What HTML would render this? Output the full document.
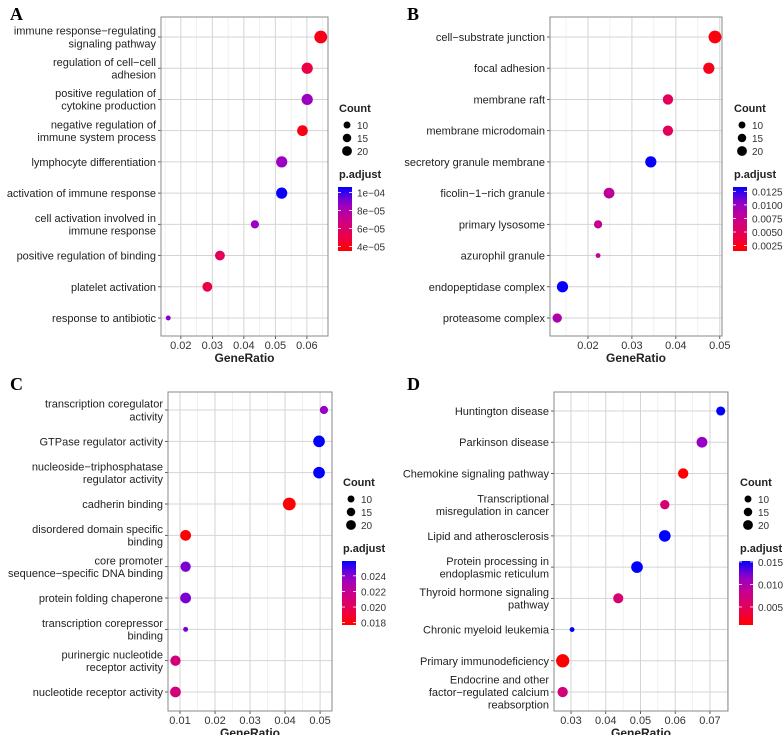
<!DOCTYPE html>
<html><head><meta charset="utf-8">
<style>
html,body{margin:0;padding:0;background:#fff;}
svg{display:block;font-family:"Liberation Sans",Arial,sans-serif;}
</style></head>
<body>
<svg id="fig" width="783" height="735" viewBox="0 0 783 735" xmlns="http://www.w3.org/2000/svg"></svg>
<script>
// ---------- Panel A ----------
const catsA = [["immune response\u2212regulating","signaling pathway"],["regulation of cell\u2212cell","adhesion"],["positive regulation of","cytokine production"],["negative regulation of","immune system process"],["lymphocyte differentiation"],["activation of immune response"],["cell activation involved in","immune response"],["positive regulation of binding"],["platelet activation"],["response to antibiotic"]];
const ratioA = [0.0644,0.0601,0.0601,0.0586,0.0520,0.0520,0.0435,0.0324,0.0284,0.0160];
const countA = [34,26,26,24,26,26,14,20,20,5];
const padjA = [4.0e-5,5.0e-5,8.6e-5,4.0e-5,8.6e-5,1.05e-4,8.6e-5,5.5e-5,5.0e-5,9.0e-5];
const xticksA = [0.02,0.03,0.04,0.05,0.06];
const xlabA = ["0.02","0.03","0.04","0.05","0.06"];
const cticksA = [4e-5,6e-5,8e-5,1e-4];
const clabA = ["4e\u221205","6e\u221205","8e\u221205","1e\u221204"];
// ---------- Panel B ----------
const catsB = [["cell\u2212substrate junction"],["focal adhesion"],["membrane raft"],["membrane microdomain"],["secretory granule membrane"],["ficolin\u22121\u2212rich granule"],["primary lysosome"],["azurophil granule"],["endopeptidase complex"],["proteasome complex"]];
const ratioB = [0.0489,0.0475,0.0382,0.0382,0.0343,0.0248,0.0223,0.0223,0.0142,0.0130];
const countB = [34,26,22,22,26,24,14,5,26,18];
const padjB = [0.0020,0.0025,0.0050,0.0050,0.0132,0.0080,0.0075,0.0075,0.0132,0.0090];
const xticksB = [0.02,0.03,0.04,0.05];
const xlabB = ["0.02","0.03","0.04","0.05"];
const cticksB = [0.0025,0.005,0.0075,0.01,0.0125];
const clabB = ["0.0025","0.0050","0.0075","0.0100","0.0125"];
// ---------- Panel C ----------
const catsC = [["transcription coregulator","activity"],["GTPase regulator activity"],["nucleoside\u2212triphosphatase","regulator activity"],["cadherin binding"],["disordered domain specific","binding"],["core promoter","sequence\u2212specific DNA binding"],["protein folding chaperone"],["transcription corepressor","binding"],["purinergic nucleotide","receptor activity"],["nucleotide receptor activity"]];
const ratioC = [0.0511,0.0497,0.0497,0.0412,0.0116,0.0116,0.0116,0.0116,0.0087,0.0087];
const countC = [14,28,28,34,24,22,24,5,22,24];
const padjC = [0.0237,0.0259,0.0259,0.0177,0.0177,0.0242,0.0242,0.0242,0.0212,0.0212];
const xticksC = [0.01,0.02,0.03,0.04,0.05];
const xlabC = ["0.01","0.02","0.03","0.04","0.05"];
const cticksC = [0.018,0.020,0.022,0.024];
const clabC = ["0.018","0.020","0.022","0.024"];
// ---------- Panel D ----------
const catsD = [["Huntington disease"],["Parkinson disease"],["Chemokine signaling pathway"],["Transcriptional","misregulation in cancer"],["Lipid and atherosclerosis"],["Protein processing in","endoplasmic reticulum"],["Thyroid hormone signaling","pathway"],["Chronic myeloid leukemia"],["Primary immunodeficiency"],["Endocrine and other","factor\u2212regulated calcium","reabsorption"]];
const ratioD = [0.0731,0.0677,0.0623,0.0570,0.0570,0.0490,0.0436,0.0303,0.0276,0.0276];
const countD = [17,24,22,18,28,28,21,5,36,22];
const padjD = [0.0152,0.0115,0.0010,0.0065,0.0152,0.0152,0.0065,0.0152,0.0010,0.0070];
const xticksD = [0.03,0.04,0.05,0.06,0.07];
const xlabD = ["0.03","0.04","0.05","0.06","0.07"];
const cticksD = [0.005,0.010,0.015];
const clabD = ["0.005","0.010","0.015"];
const legendCounts = [10,15,20];

const NS="http://www.w3.org/2000/svg";
const svg=document.getElementById('fig');
function mk(tag,attrs,parent){const e=document.createElementNS(NS,tag);for(const k in attrs)e.setAttribute(k,attrs[k]);(parent||svg).appendChild(e);return e;}
function rad(c){return 1.1*Math.sqrt(c);}
const stops=[[255,0,0],[232,0,80],[200,0,140],[150,0,200],[0,0,255]];
function col(t){t=Math.max(0,Math.min(1,t));const p=t*(stops.length-1);const i=Math.min(stops.length-2,Math.floor(p));const f=p-i;const a=stops[i],b=stops[i+1];return `rgb(${Math.round(a[0]+(b[0]-a[0])*f)},${Math.round(a[1]+(b[1]-a[1])*f)},${Math.round(a[2]+(b[2]-a[2])*f)})`;}

function panel(P){
  const g=mk('g',{});
  
  
  const t=mk('text',{x:P.lx,y:P.ly,'font-family':'"Liberation Serif",serif','font-weight':'bold','font-size':18,fill:'#000'},g);
  t.textContent=P.id;
  
  
  const xs=v=>P.x0+(v-P.dmin)/(P.dmax-P.dmin)*(P.x1-P.x0);
  const n=P.cats.length;
  const ys=i=>P.r0+i*(P.rN-P.r0)/(n-1);
  mk('rect',{x:P.x0,y:P.y0,width:P.x1-P.x0,height:P.y1-P.y0,fill:'#fff'},g);
  // minor grid
  for(let k=0;k<P.xt.length+1;k++){
    const step=P.xt[1]-P.xt[0];const v=P.xt[0]-step/2+k*step;
    if(v>P.dmin&&v<P.dmax){mk('line',{x1:xs(v),x2:xs(v),y1:P.y0,y2:P.y1,stroke:'#e6e6e6','stroke-width':0.6},g);}
  }
  P.xt.forEach((v,k)=>{
    const l=mk('line',{x1:xs(v),x2:xs(v),y1:P.y0,y2:P.y1,stroke:'#d4d4d4','stroke-width':1},g);
    
    
    mk('line',{x1:xs(v),x2:xs(v),y1:P.y1,y2:P.y1+3,stroke:'#333','stroke-width':0.8},g);
    const tx=mk('text',{x:xs(v),y:P.y1+13,'text-anchor':'middle','font-size':11,fill:'#333'},g);
    tx.textContent=P.xl[k];
    
    
  });
  P.cats.forEach((c,i)=>{
    const y=ys(i);
    const l=mk('line',{x1:P.x0,x2:P.x1,y1:y,y2:y,stroke:'#d4d4d4','stroke-width':1},g);
    
    
    mk('line',{x1:P.x0-3,x2:P.x0,y1:y,y2:y,stroke:'#333','stroke-width':0.8},g);
    const lh=12.6;const top=y-(c.length-1)*lh/2+4;
    const tx=mk('text',{'text-anchor':'end','font-size':11,fill:'#222'},g);
    
    
    c.forEach((s,j)=>{const ts=mk('tspan',{x:P.x0-5,y:top+j*lh},tx);ts.textContent=s;});
  });
  mk('rect',{x:P.x0,y:P.y0,width:P.x1-P.x0,height:P.y1-P.y0,fill:'none',stroke:'#8a8a8a','stroke-width':1},g);
  P.cats.forEach((c,i)=>{
    const tt=(P.padj[i]-P.cmin)/(P.cmax-P.cmin);
    const d=mk('circle',{cx:xs(P.ratio[i]),cy:ys(i),r:rad(P.count[i]),fill:col(tt)},g);
    
    
  });
  const at=mk('text',{x:(P.x0+P.x1)/2,y:P.y1+26,'text-anchor':'middle','font-size':12,'font-weight':'bold',fill:'#222'},g);
  at.textContent='GeneRatio';
  
  
  // legend: count
  const lg=P.leg;
  const ct=mk('text',{x:lg,y:P.cy,'font-size':11,'font-weight':'bold',fill:'#222'},g);
  ct.textContent='Count';
  
  
  legendCounts.forEach((c,k)=>{
    const yy=P.cy+13+k*13;
    const d=mk('circle',{cx:lg+8,cy:yy,r:rad(c),fill:'#000'},g);
    
    
    const tx=mk('text',{x:lg+18,y:yy+4,'font-size':10,fill:'#333'},g);
    tx.textContent=String(c);
    
    
  });
  const pt=mk('text',{x:lg,y:P.cy+66,'font-size':11,'font-weight':'bold',fill:'#222'},g);
  pt.textContent='p.adjust';
  
  
  const by0=P.cy+75,by1=P.cy+139,bx=lg-1,bw=14;
  const gid='grad'+P.id;
  const defs=mk('defs',{},g);
  const lgd=mk('linearGradient',{id:gid,x1:0,y1:1,x2:0,y2:0},defs);
  for(let k=0;k<=10;k++){mk('stop',{offset:k/10,'stop-color':col(k/10)},lgd);}
  const bar=mk('rect',{x:bx,y:by0,width:bw,height:by1-by0,fill:`url(#${gid})`},g);
  
  
  P.ct.forEach((v,k)=>{
    const yy=by1-(v-P.cmin)/(P.cmax-P.cmin)*(by1-by0);
    mk('line',{x1:bx,x2:bx+3,y1:yy,y2:yy,stroke:'#fff','stroke-width':0.8},g);
    mk('line',{x1:bx+bw-3,x2:bx+bw,y1:yy,y2:yy,stroke:'#fff','stroke-width':0.8},g);
    const tx=mk('text',{x:bx+bw+5,y:yy+4,'font-size':10,fill:'#333'},g);
    tx.textContent=P.cl[k];
    
    
  });
}
panel({id:'A',lx:10,ly:20,x0:161,x1:328,y0:17,y1:336,r0:37,rN:318,dmin:0.0137,dmax:0.0667,cats:catsA,ratio:ratioA,count:countA,padj:padjA,xt:xticksA,xl:xlabA,cmin:3.5e-5,cmax:1.06e-4,ct:cticksA,cl:clabA,leg:339,cy:112});
panel({id:'B',lx:407,ly:20,x0:550,x1:722,y0:17,y1:336,r0:37,rN:318,dmin:0.01136,dmax:0.0505,cats:catsB,ratio:ratioB,count:countB,padj:padjB,xt:xticksB,xl:xlabB,cmin:0.0015,cmax:0.0133,ct:cticksB,cl:clabB,leg:734,cy:112});
panel({id:'C',lx:10,ly:390,x0:168,x1:332,y0:392,y1:711,r0:410,rN:692,dmin:0.00657,dmax:0.0534,cats:catsC,ratio:ratioC,count:countC,padj:padjC,xt:xticksC,xl:xlabC,cmin:0.0177,cmax:0.0259,ct:cticksC,cl:clabC,leg:343,cy:486});
panel({id:'D',lx:407,ly:390,x0:554,x1:728,y0:392,y1:711,r0:411,rN:692,dmin:0.0251,dmax:0.0752,cats:catsD,ratio:ratioD,count:countD,padj:padjD,xt:xticksD,xl:xlabD,cmin:0.001,cmax:0.0152,ct:cticksD,cl:clabD,leg:740,cy:486});
</script>
</body></html>
